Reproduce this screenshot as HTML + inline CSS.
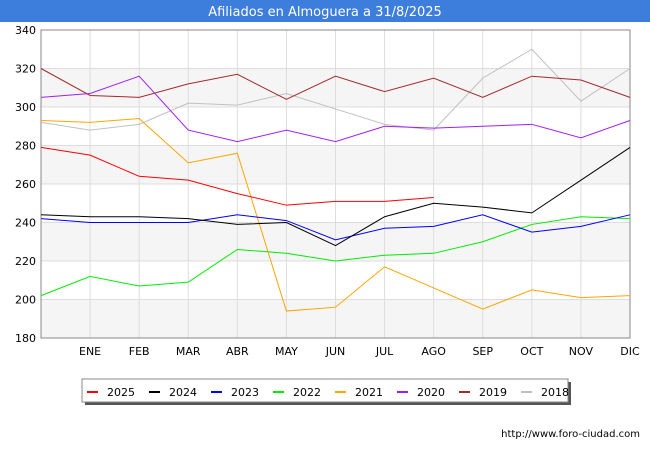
<!DOCTYPE html>
<html><head><meta charset="utf-8"><style>
body{margin:0;width:650px;height:450px;background:#fff;font-family:"Liberation Sans","DejaVu Sans",sans-serif;overflow:hidden}
</style></head><body>
<svg id="c" width="650" height="450" xmlns="http://www.w3.org/2000/svg">
<rect x="0" y="0" width="650" height="22" fill="#3d7ddb"/>
<text x="325" y="16" text-anchor="middle" fill="#fff" font-size="13" font-family="DejaVu Sans, sans-serif">Afiliados en Almoguera a 31/8/2025</text>
<g id="grid"></g><g id="series"></g>
<text x="640" y="437" text-anchor="end" font-size="10" font-family="DejaVu Sans, sans-serif" fill="#000">http://www.foro-ciudad.com</text>
<g id="legend"></g>
</svg>
<script>
const months=["","ENE","FEB","MAR","ABR","MAY","JUN","JUL","AGO","SEP","OCT","NOV","DIC"];
const yTicks=[180,200,220,240,260,280,300,320,340];
const years=["2025","2024","2023","2022","2021","2020","2019","2018"];
const colors=["#ff0000","#000000","#0000ff","#00ee00","#ffa500","#a020f0","#a52a2a","#c0c0c0"];
const s2025=[279,275,264,262,255,249,251,251,253];
const s2024=[244,243,243,242,239,240,228,243,250,248,245,262,279];
const s2023=[242,240,240,240,244,241,231,237,238,244,235,238,244];
const s2022=[202,212,207,209,226,224,220,223,224,230,239,243,242];
const s2021=[293,292,294,271,276,194,196,217,206,195,205,201,202];
const s2020=[305,307,316,288,282,288,282,290,289,290,291,284,293];
const s2019=[320,306,305,312,317,304,316,308,315,305,316,314,305];
const s2018=[292,288,291,302,301,307,299,291,288,315,330,303,320];
const series=[s2025,s2024,s2023,s2022,s2021,s2020,s2019,s2018];
const L=41,R=630,T=30,B=338,NS="http://www.w3.org/2000/svg";
const x=i=>L+i*(R-L)/12, y=v=>B-(v-180)*(B-T)/160;
function mk(t,a,p){const e=document.createElementNS(NS,t);for(const k in a)e.setAttribute(k,a[k]);p.appendChild(e);return e;}
const g=document.getElementById('grid');
for(let i=0;i<yTicks.length-1;i+=2){const r=mk('rect',{x:L,y:y(yTicks[i+1]),width:R-L,height:y(yTicks[i])-y(yTicks[i+1]),fill:'#f5f5f5'},g);

}
yTicks.forEach(v=>{const l=mk('line',{x1:L,x2:R,y1:y(v),y2:y(v),stroke:'#ddd'},g);


const t=mk('text',{x:L-5,y:y(v)+4,'text-anchor':'end','font-size':11,'font-family':'DejaVu Sans, sans-serif'},g);t.textContent=v;

});
months.forEach((m,i)=>{if(i>0){const l=mk('line',{x1:x(i),x2:x(i),y1:T,y2:B,stroke:'#ddd'},g);

}
const t=mk('text',{x:x(i),y:B+17,'text-anchor':'middle','font-size':11,'font-family':'DejaVu Sans, sans-serif'},g);t.textContent=m;

});
const fr=mk('rect',{x:L,y:T,width:R-L,height:B-T,fill:'none',stroke:'#888'},g);


const sg=document.getElementById('series');
for(let k=series.length-1;k>=0;k--){const p=mk('polyline',{points:series[k].map((v,i)=>x(i)+','+y(v)).join(' '),fill:'none',stroke:colors[k],'stroke-width':1},sg);

}
const lg=document.getElementById('legend');
const sh=mk('rect',{x:85,y:382,width:486,height:23,fill:'#555'},lg);


const bx=mk('rect',{x:82,y:379,width:486,height:23,fill:'#fff',stroke:'#888'},lg);


years.forEach((yr,k)=>{const x0=87+k*62;
const ln=mk('line',{x1:x0,x2:x0+11,y1:392,y2:392,stroke:colors[k],'stroke-width':2},lg);


const t=mk('text',{x:x0+20,y:396,'font-size':11,'font-family':'DejaVu Sans, sans-serif'},lg);t.textContent=yr;

});
</script>
</body></html>
